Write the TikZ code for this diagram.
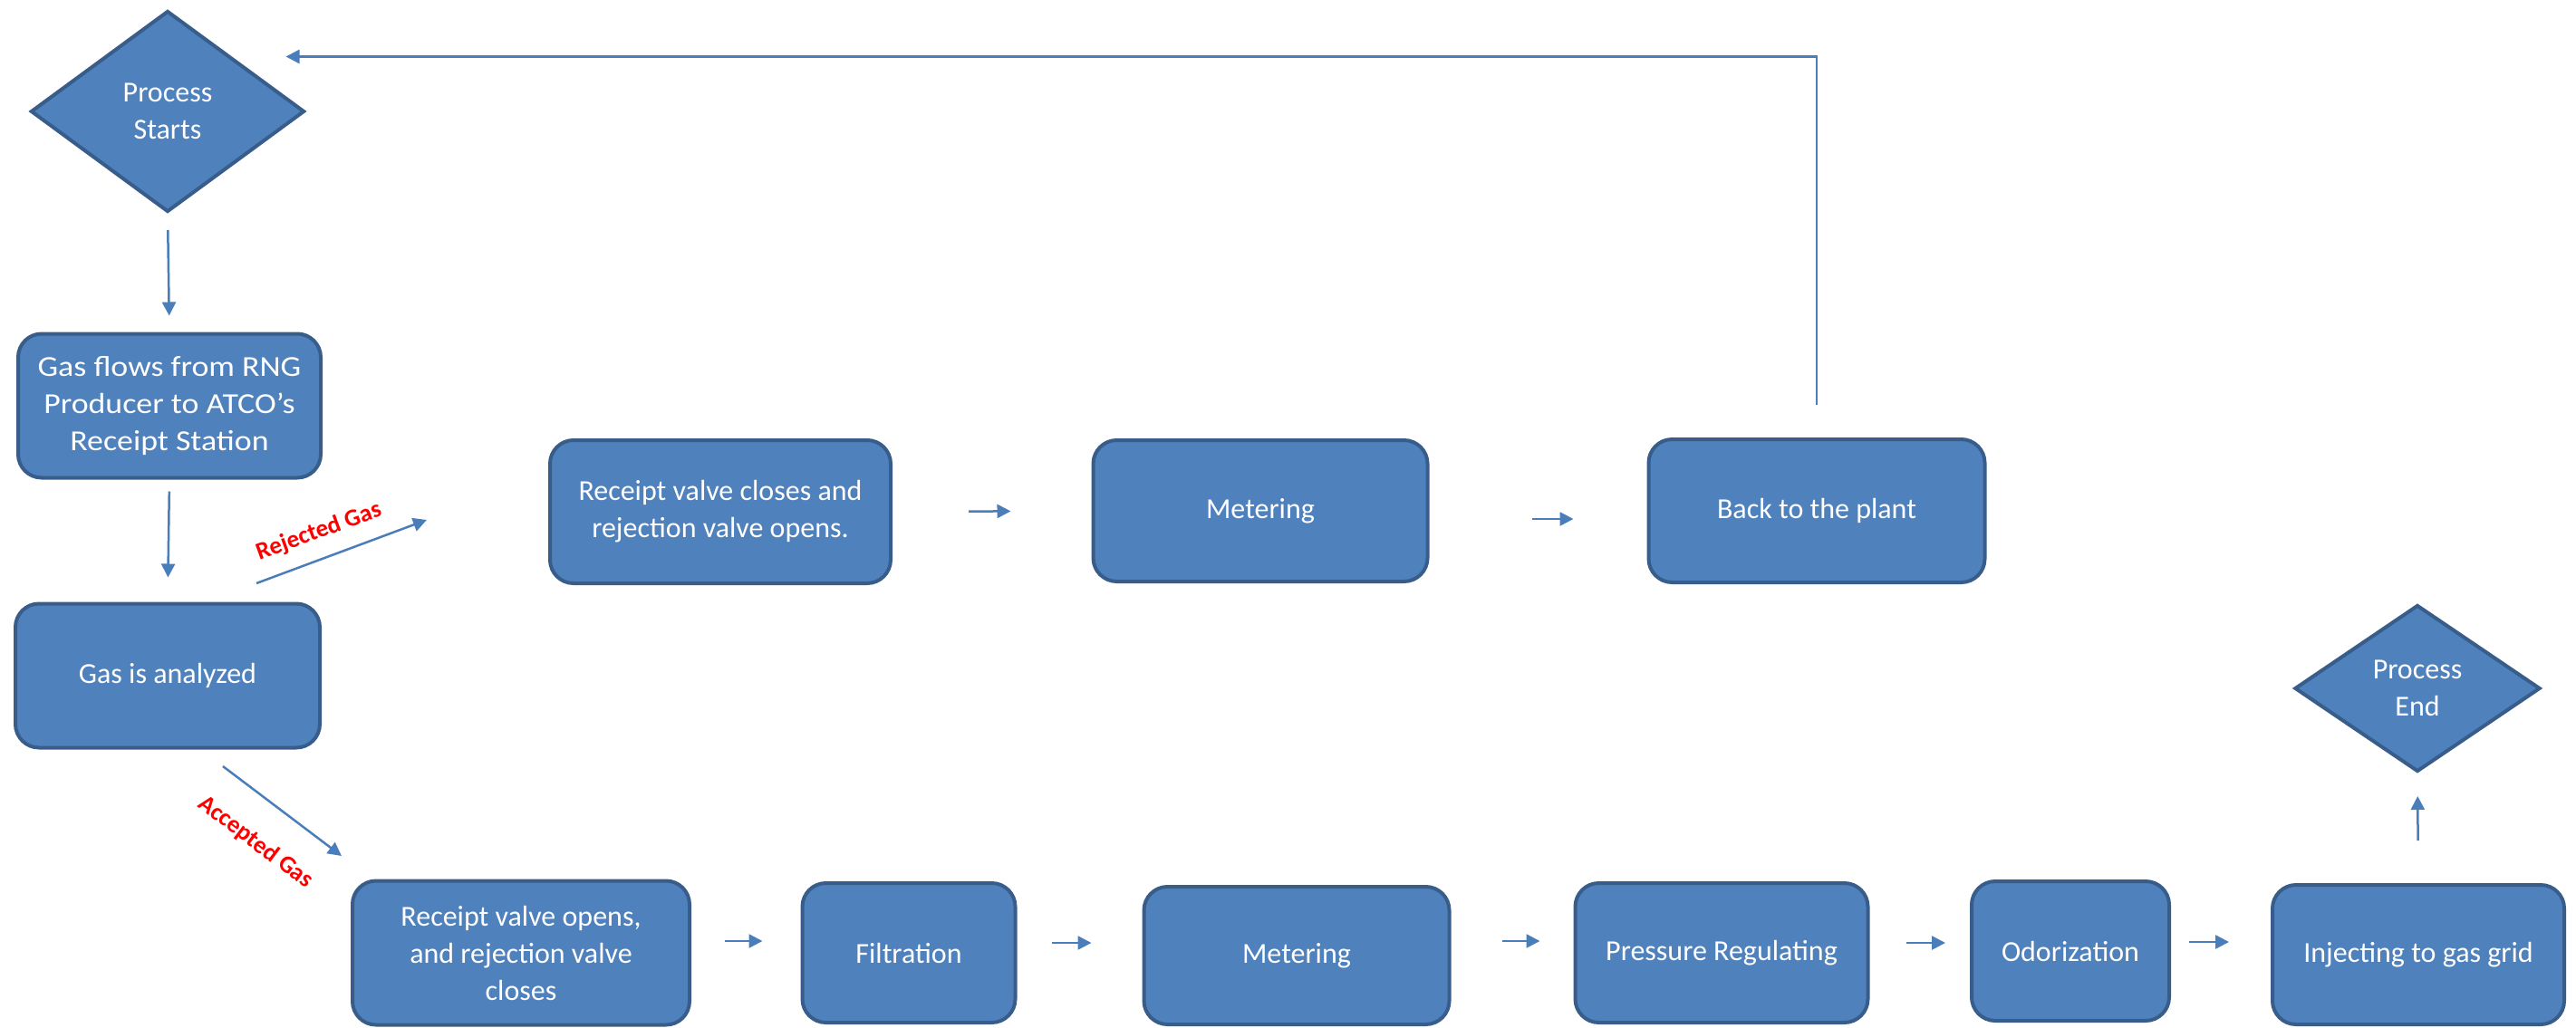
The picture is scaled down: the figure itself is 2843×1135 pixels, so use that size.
\documentclass[tikz,border=0pt]{standalone}
\usepackage{fontspec}
\setmainfont{Carlito}
\usetikzlibrary{shapes.geometric,arrows.meta}
\definecolor{boxfill}{HTML}{4F81BD}
\definecolor{boxline}{HTML}{385D8A}
\definecolor{arrowc}{HTML}{4A7EBB}
\begin{document}
\begin{tikzpicture}[x=0.5pt,y=-0.5pt,
  box/.style={draw=boxline, fill=boxfill, line width=2pt, rounded corners=13pt,
    text=white, font=\fontsize{16}{20.5}\selectfont, align=center, inner sep=0pt},
  dia/.style={diamond, draw=boxline, fill=boxfill, line width=2pt,
    text=white, font=\fontsize{16}{20.5}\selectfont, align=center, inner sep=0pt},
  arr/.style={draw=arrowc, line width=1.25pt, -{Triangle[length=7.5pt,width=7.5pt]}},
  lab/.style={text=red, font=\bfseries\fontsize{13.5}{16}\selectfont}
]
\useasboundingbox (0,0) rectangle (2843,1135);

% nodes
\node[dia, minimum width=151pt, minimum height=111pt] (start) at (185,123) {Process\\Starts};
\node[box, minimum width=167pt, minimum height=79.5pt,
  font=\fontsize{16}{20.5}\selectfont\addfontfeatures{FakeStretch=1.12}] (flows) at (187,448) {Gas flows from RNG\\Producer to ATCO’s\\Receipt Station};
\node[box, minimum width=168pt, minimum height=79.5pt] (analyzed) at (185,746) {Gas is analyzed};
\node[box, minimum width=188pt, minimum height=79pt] (closes) at (795,565) {Receipt valve closes and\\rejection valve opens.};
\node[box, minimum width=184.5pt, minimum height=78pt] (meterA) at (1391,564) {Metering};
\node[box, minimum width=185.5pt, minimum height=79pt] (back) at (2005,564) {Back to the plant};
\node[box, minimum width=186pt, minimum height=79.5pt] (opens) at (575,1052) {Receipt valve opens,\\and rejection valve\\closes};
\node[box, minimum width=117.5pt, minimum height=77pt] (filt) at (1003,1052) {Filtration};
\node[box, minimum width=168.5pt, minimum height=76pt] (meterB) at (1431,1055) {Metering};
\node[box, minimum width=161.5pt, minimum height=77pt] (press) at (1900,1052) {Pressure Regulating};
\node[box, minimum width=109pt, minimum height=77pt] (odor) at (2285,1050) {Odorization};
\node[box, minimum width=161pt, minimum height=77pt] (inject) at (2669,1054) {Injecting to gas grid};
\node[dia, minimum width=135.5pt, minimum height=92pt] (finish) at (2668,760) {Process\\End};

% free ends of the diagonal connectors
\coordinate (rejS) at (283,644);
\coordinate (rejE) at (471,574);
\coordinate (accS) at (246,846);
\coordinate (accE) at (377,945);

% labels
\node[lab, rotate=20] (rejlab) at (352,587) {Rejected Gas};
\node[lab, rotate=-37] (acclab) at (282,930) {Accepted Gas};

% connectors
\draw[arr, shorten <=9pt, shorten >=9pt] (start.south) -- (flows.north);
\draw[arr, shorten <=6.5pt, shorten >=13.5pt] (flows.south) -- (analyzed.north);
\draw[arr] (rejS) -- (rejE);
\draw[arr] (accS) -- (accE);
\draw[arr, shorten <=42pt, shorten >=44.5pt] (closes.east) -- (meterA.west);
\draw[arr, shorten <=56.5pt, shorten >=40.5pt] ([yshift=-4.5pt]meterA.east) -- ([yshift=-4.5pt]back.west);
\draw[arr, shorten <=18pt, shorten >=27pt] (back.north) |- ([yshift=2pt]start.north east);
\draw[arr, shorten <=18.5pt, shorten >=21pt] ([yshift=6.5pt]opens.east) -- ([yshift=6.5pt]filt.west);
\draw[arr, shorten <=19pt, shorten >=28pt] ([yshift=5.5pt]filt.east) -- ([yshift=7pt]meterB.west);
\draw[arr, shorten <=28pt, shorten >=18.5pt] ([yshift=8pt]meterB.east) -- ([yshift=6.5pt]press.west);
\draw[arr, shorten <=20pt, shorten >=13.5pt] ([yshift=5.5pt]press.east) -- ([yshift=4.5pt]odor.west);
\draw[arr, shorten <=10pt, shorten >=23pt] ([yshift=5pt]odor.east) -- ([yshift=7pt]inject.west);
\draw[arr, shorten <=23.5pt, shorten >=12.5pt] (inject.north) -- (finish.south);
\end{tikzpicture}
\end{document}
